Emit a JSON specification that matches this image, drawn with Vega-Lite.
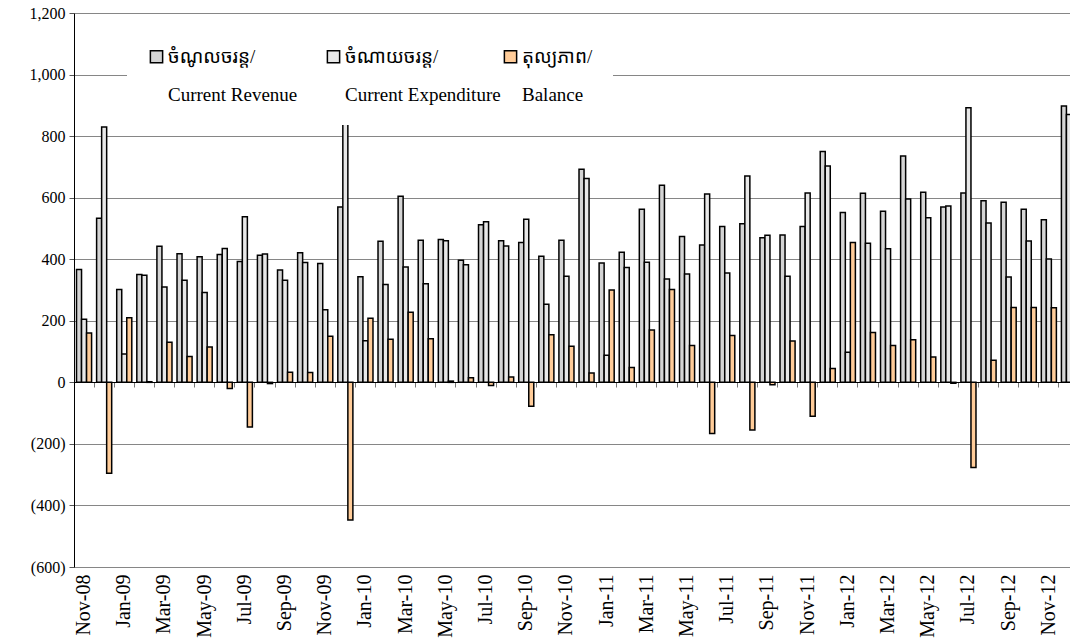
{
  "$schema": "https://vega.github.io/schema/vega-lite/v6.json",
  "autosize": "none",
  "width": 996,
  "height": 554,
  "padding": {"left": 74, "top": 13, "right": 0, "bottom": 77},
  "background": "white",
  "config": {"view": {"stroke": null}, "font": "Liberation Serif, Times New Roman, serif"},
  "datasets": {
    "monthly": [
      {"m":"Nov-08","s":"rev","v":367},{"m":"Nov-08","s":"exp","v":205},{"m":"Nov-08","s":"bal","v":160},
      {"m":"Dec-08","s":"rev","v":533},{"m":"Dec-08","s":"exp","v":830},{"m":"Dec-08","s":"bal","v":-295},
      {"m":"Jan-09","s":"rev","v":302},{"m":"Jan-09","s":"exp","v":92},{"m":"Jan-09","s":"bal","v":210},
      {"m":"Feb-09","s":"rev","v":350},{"m":"Feb-09","s":"exp","v":348},{"m":"Feb-09","s":"bal","v":2},
      {"m":"Mar-09","s":"rev","v":442},{"m":"Mar-09","s":"exp","v":310},{"m":"Mar-09","s":"bal","v":130},
      {"m":"Apr-09","s":"rev","v":418},{"m":"Apr-09","s":"exp","v":332},{"m":"Apr-09","s":"bal","v":84},
      {"m":"May-09","s":"rev","v":408},{"m":"May-09","s":"exp","v":292},{"m":"May-09","s":"bal","v":115},
      {"m":"Jun-09","s":"rev","v":415},{"m":"Jun-09","s":"exp","v":435},{"m":"Jun-09","s":"bal","v":-20},
      {"m":"Jul-09","s":"rev","v":393},{"m":"Jul-09","s":"exp","v":538},{"m":"Jul-09","s":"bal","v":-145},
      {"m":"Aug-09","s":"rev","v":413},{"m":"Aug-09","s":"exp","v":417},{"m":"Aug-09","s":"bal","v":-4},
      {"m":"Sep-09","s":"rev","v":365},{"m":"Sep-09","s":"exp","v":332},{"m":"Sep-09","s":"bal","v":33},
      {"m":"Oct-09","s":"rev","v":421},{"m":"Oct-09","s":"exp","v":389},{"m":"Oct-09","s":"bal","v":32},
      {"m":"Nov-09","s":"rev","v":386},{"m":"Nov-09","s":"exp","v":236},{"m":"Nov-09","s":"bal","v":150},
      {"m":"Dec-09","s":"rev","v":570},{"m":"Dec-09","s":"exp","v":968},{"m":"Dec-09","s":"bal","v":-447},
      {"m":"Jan-10","s":"rev","v":343},{"m":"Jan-10","s":"exp","v":135},{"m":"Jan-10","s":"bal","v":208},
      {"m":"Feb-10","s":"rev","v":458},{"m":"Feb-10","s":"exp","v":318},{"m":"Feb-10","s":"bal","v":140},
      {"m":"Mar-10","s":"rev","v":605},{"m":"Mar-10","s":"exp","v":375},{"m":"Mar-10","s":"bal","v":228},
      {"m":"Apr-10","s":"rev","v":462},{"m":"Apr-10","s":"exp","v":320},{"m":"Apr-10","s":"bal","v":142},
      {"m":"May-10","s":"rev","v":464},{"m":"May-10","s":"exp","v":460},{"m":"May-10","s":"bal","v":4},
      {"m":"Jun-10","s":"rev","v":397},{"m":"Jun-10","s":"exp","v":382},{"m":"Jun-10","s":"bal","v":15},
      {"m":"Jul-10","s":"rev","v":512},{"m":"Jul-10","s":"exp","v":522},{"m":"Jul-10","s":"bal","v":-10},
      {"m":"Aug-10","s":"rev","v":460},{"m":"Aug-10","s":"exp","v":443},{"m":"Aug-10","s":"bal","v":17},
      {"m":"Sep-10","s":"rev","v":454},{"m":"Sep-10","s":"exp","v":530},{"m":"Sep-10","s":"bal","v":-78},
      {"m":"Oct-10","s":"rev","v":410},{"m":"Oct-10","s":"exp","v":254},{"m":"Oct-10","s":"bal","v":155},
      {"m":"Nov-10","s":"rev","v":462},{"m":"Nov-10","s":"exp","v":345},{"m":"Nov-10","s":"bal","v":117},
      {"m":"Dec-10","s":"rev","v":692},{"m":"Dec-10","s":"exp","v":662},{"m":"Dec-10","s":"bal","v":30},
      {"m":"Jan-11","s":"rev","v":388},{"m":"Jan-11","s":"exp","v":88},{"m":"Jan-11","s":"bal","v":300},
      {"m":"Feb-11","s":"rev","v":423},{"m":"Feb-11","s":"exp","v":373},{"m":"Feb-11","s":"bal","v":48},
      {"m":"Mar-11","s":"rev","v":562},{"m":"Mar-11","s":"exp","v":390},{"m":"Mar-11","s":"bal","v":170},
      {"m":"Apr-11","s":"rev","v":640},{"m":"Apr-11","s":"exp","v":336},{"m":"Apr-11","s":"bal","v":302},
      {"m":"May-11","s":"rev","v":474},{"m":"May-11","s":"exp","v":352},{"m":"May-11","s":"bal","v":120},
      {"m":"Jun-11","s":"rev","v":446},{"m":"Jun-11","s":"exp","v":612},{"m":"Jun-11","s":"bal","v":-166},
      {"m":"Jul-11","s":"rev","v":506},{"m":"Jul-11","s":"exp","v":355},{"m":"Jul-11","s":"bal","v":152},
      {"m":"Aug-11","s":"rev","v":515},{"m":"Aug-11","s":"exp","v":670},{"m":"Aug-11","s":"bal","v":-155},
      {"m":"Sep-11","s":"rev","v":470},{"m":"Sep-11","s":"exp","v":478},{"m":"Sep-11","s":"bal","v":-8},
      {"m":"Oct-11","s":"rev","v":479},{"m":"Oct-11","s":"exp","v":345},{"m":"Oct-11","s":"bal","v":134},
      {"m":"Nov-11","s":"rev","v":506},{"m":"Nov-11","s":"exp","v":615},{"m":"Nov-11","s":"bal","v":-110},
      {"m":"Dec-11","s":"rev","v":750},{"m":"Dec-11","s":"exp","v":703},{"m":"Dec-11","s":"bal","v":45},
      {"m":"Jan-12","s":"rev","v":552},{"m":"Jan-12","s":"exp","v":98},{"m":"Jan-12","s":"bal","v":454},
      {"m":"Feb-12","s":"rev","v":614},{"m":"Feb-12","s":"exp","v":452},{"m":"Feb-12","s":"bal","v":162},
      {"m":"Mar-12","s":"rev","v":556},{"m":"Mar-12","s":"exp","v":434},{"m":"Mar-12","s":"bal","v":120},
      {"m":"Apr-12","s":"rev","v":735},{"m":"Apr-12","s":"exp","v":596},{"m":"Apr-12","s":"bal","v":138},
      {"m":"May-12","s":"rev","v":618},{"m":"May-12","s":"exp","v":535},{"m":"May-12","s":"bal","v":82},
      {"m":"Jun-12","s":"rev","v":570},{"m":"Jun-12","s":"exp","v":573},{"m":"Jun-12","s":"bal","v":-3},
      {"m":"Jul-12","s":"rev","v":615},{"m":"Jul-12","s":"exp","v":892},{"m":"Jul-12","s":"bal","v":-277},
      {"m":"Aug-12","s":"rev","v":590},{"m":"Aug-12","s":"exp","v":518},{"m":"Aug-12","s":"bal","v":72},
      {"m":"Sep-12","s":"rev","v":585},{"m":"Sep-12","s":"exp","v":342},{"m":"Sep-12","s":"bal","v":243},
      {"m":"Oct-12","s":"rev","v":562},{"m":"Oct-12","s":"exp","v":459},{"m":"Oct-12","s":"bal","v":243},
      {"m":"Nov-12","s":"rev","v":528},{"m":"Nov-12","s":"exp","v":401},{"m":"Nov-12","s":"bal","v":242},
      {"m":"Dec-12","s":"rev","v":898},{"m":"Dec-12","s":"exp","v":870},{"m":"Dec-12","s":"bal","v":28}
    ]
  },
  "data": {"name": "monthly"},
  "mark": {"type": "bar", "stroke": "black", "strokeWidth": 1.5},
  "encoding": {
    "x": {
      "field": "m", "type": "nominal", "sort": null,
      "scale": {"range": [0, 1005], "paddingInner": 0.25, "paddingOuter": 0.125},
      "axis": {
        "orient": "bottom", "offset": -185, "title": null, "grid": false,
        "domainColor": "black", "domainWidth": 1,
        "ticks": true, "tickColor": "#777777", "tickSize": 5, "tickWidth": 1,
        "bandPosition": -0.1658, "labelOffset": 0,
        "labelAngle": -90, "labelPadding": 187,
        "labelFont": "Liberation Serif", "labelFontSize": 20, "labelColor": "black",
        "labelOverlap": false,
        "labelExpr": "indexof(['Nov','Jan','Mar','May','Jul','Sep'], slice(datum.label, 0, 3)) >= 0 ? datum.label : ''"
      }
    },
    "xOffset": {"field": "s", "type": "nominal", "scale": {"domain": ["rev", "exp", "bal"]}},
    "y": {
      "field": "v", "type": "quantitative",
      "scale": {"domain": [-600, 1200], "nice": false, "zero": false},
      "axis": {
        "values": [-600, -400, -200, 0, 200, 400, 600, 800, 1000, 1200],
        "title": null, "grid": true, "gridColor": "#868686", "gridWidth": 1,
        "domainColor": "black", "domainWidth": 1,
        "tickColor": "#555555", "tickSize": 5,
        "labelFont": "Liberation Serif", "labelFontSize": 16, "labelColor": "black", "labelPadding": 4,
        "labelExpr": "datum.value < 0 ? '(' + format(-datum.value, ',') + ')' : format(datum.value, ',')"
      }
    },
    "fill": {
      "field": "s", "type": "nominal",
      "scale": {"domain": ["rev", "exp", "bal"], "range": ["#d4d4d4", "#e8e8e8", "#ffcc99"]},
      "legend": {
        "orient": "none", "legendX": 53, "legendY": 14,
        "direction": "horizontal", "columns": 3, "gridAlign": "all",
        "title": null, "fillColor": "white", "padding": 20,
        "labelFont": "Liberation Serif, Noto Sans Khmer, Khmer OS, serif",
        "labelFontSize": 19, "labelColor": "black", "labelLimit": 400, "labelOffset": 2,
        "symbolType": "square", "symbolSize": 150, "symbolStrokeColor": "black", "symbolStrokeWidth": 1.5,
        "columnPadding": 0,
        "labelExpr": "datum.label == 'rev' ? ['ចំណូលចរន្ត/', 'Current Revenue'] : datum.label == 'exp' ? ['ចំណាយចរន្ត/', 'Current Expenditure'] : ['តុល្យភាព/', 'Balance']",
        "encode": {"labels": {"update": {"lineHeight": {"value": 38}}}}
      }
    }
  }
}
